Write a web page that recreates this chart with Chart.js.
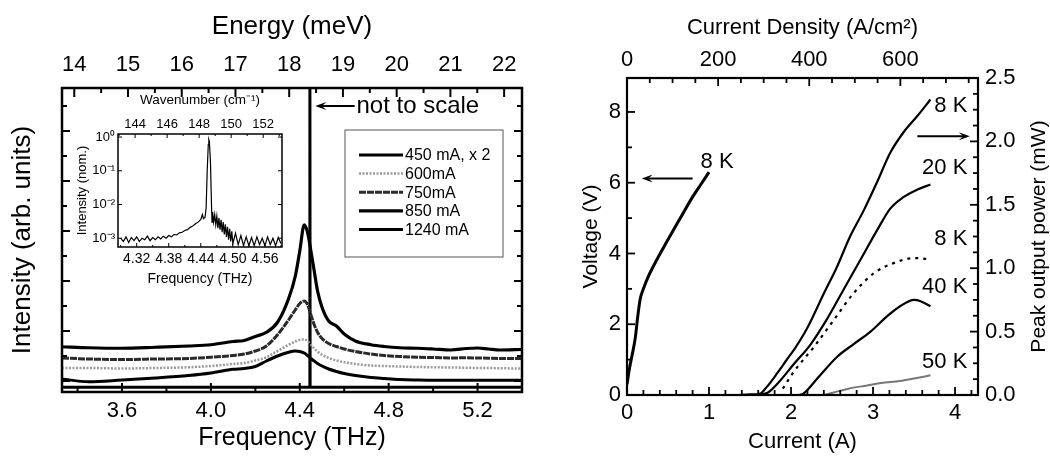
<!DOCTYPE html>
<html>
<head>
<meta charset="utf-8">
<script src="https://cdn.jsdelivr.net/npm/chart.js@4.4.1/dist/chart.umd.min.js"></script>
<style>
    body { margin: 0; background: #fff; width: 1050px; height: 456px; position: relative; overflow: hidden; }
    canvas { position: absolute; }
    #spec { left: 0; top: 0; }
    #inset { left: 70px; top: 88px; }
    #liv { left: 530px; top: 0; }
</style>
</head>
<body>
<canvas id="spec" width="530" height="456"></canvas>
<canvas id="inset" width="220" height="205"></canvas>
<canvas id="liv" width="520" height="456"></canvas>
<script>
// ---- unit conversions for the secondary axes
const THZ_PER_MEV = 0.241799;
const THZ_PER_WAVENUMBER = 0.0299792;
const JCM2_PER_AMP = 180;

// ---- left panel: spectra (frequency in THz, intensity offset in arb. units)
const specFreq = [3.33, 3.45, 3.6, 3.75, 3.9, 4.0, 4.1, 4.15, 4.2, 4.25, 4.3, 4.35, 4.38, 4.40, 4.42, 4.435,
    4.45, 4.465, 4.48, 4.50, 4.53, 4.565, 4.6, 4.65, 4.72, 4.78, 4.85, 4.93, 5.0, 5.08, 5.15, 5.2, 5.25, 5.3, 5.4];
const spec450 = [0.08, -0.03, 0.04, 0.12, 0.22, 0.32, 0.47, 0.5, 0.58, 0.8, 1.0, 1.15, 1.2, 1.18, 1.12, 1.02,
    0.9, 0.8, 0.7, 0.6, 0.48, 0.38, 0.3, 0.22, 0.14, 0.1, 0.06, 0.04, 0.03, 0.03, 0.03, 0.03, 0.03, 0.03, 0.03];
const spec600 = [0.52, 0.52, 0.5, 0.52, 0.55, 0.6, 0.68, 0.72, 0.82, 0.95, 1.2, 1.45, 1.58, 1.65, 1.66, 1.6,
    1.45, 1.3, 1.18, 1.05, 0.92, 0.82, 0.75, 0.68, 0.62, 0.6, 0.58, 0.56, 0.55, 0.54, 0.53, 0.52, 0.52, 0.51, 0.5];
const spec750 = [0.92, 0.88, 0.86, 0.88, 0.9, 0.95, 1.02, 1.08, 1.2, 1.4, 1.85, 2.45, 2.85, 3.1, 3.2, 3.05,
    2.65, 2.25, 1.95, 1.7, 1.5, 1.38, 1.28, 1.18, 1.08, 1.02, 0.98, 0.95, 0.94, 0.92, 0.93, 0.92, 0.91, 0.9, 0.9];
const spec850 = [1.37, 1.33, 1.31, 1.35, 1.4, 1.45, 1.58, 1.62, 1.78, 1.95, 2.35, 3.3, 4.2, 5.2, 6.25, 5.95,
    5.2, 4.4, 3.6, 2.95, 2.4, 2.2, 1.88, 1.6, 1.45, 1.38, 1.33, 1.31, 1.28, 1.24, 1.3, 1.32, 1.28, 1.24, 1.26];
const spec1240Freq = [3.33, 4.4445, 4.445, 4.446, 4.4465, 5.4];
const spec1240 = [-0.25, -0.25, 13, 13, -0.25, -0.25];

// ---- inset: log spectrum above threshold
const insetFreq = [4.29, 4.295, 4.30, 4.305, 4.31, 4.315, 4.32, 4.325, 4.33, 4.335, 4.34, 4.345, 4.35, 4.355,
    4.36, 4.365, 4.37, 4.375, 4.38, 4.385, 4.39, 4.395, 4.40, 4.405, 4.41, 4.415, 4.42, 4.425, 4.43, 4.435,
    4.44, 4.443, 4.445, 4.448, 4.450, 4.452, 4.454, 4.455, 4.456, 4.458, 4.460, 4.461, 4.462, 4.464, 4.466,
    4.468, 4.47, 4.472, 4.474, 4.476, 4.478, 4.48, 4.482, 4.484, 4.486, 4.488, 4.49, 4.492, 4.494, 4.496,
    4.498, 4.50, 4.505, 4.51, 4.515, 4.52, 4.525, 4.53, 4.535, 4.54, 4.545, 4.55, 4.555, 4.56, 4.565, 4.57,
    4.575, 4.58, 4.585, 4.59];
const insetInt = [1.0e-3, 0.8e-3, 1.1e-3, 0.75e-3, 1.05e-3, 0.85e-3, 1.1e-3, 0.8e-3, 1.0e-3, 0.9e-3, 1.15e-3,
    0.85e-3, 1.05e-3, 0.9e-3, 1.1e-3, 0.95e-3, 1.15e-3, 1.0e-3, 1.2e-3, 1.1e-3, 1.3e-3, 1.25e-3, 1.45e-3,
    1.5e-3, 1.7e-3, 1.8e-3, 2.1e-3, 2.3e-3, 2.7e-3, 3.0e-3, 3.6e-3, 5.0e-3, 3.8e-3, 4.2e-3, 8e-3, 0.1, 0.6,
    0.85, 0.75, 0.2, 0.01, 3e-3, 6e-3, 3e-3, 5e-3, 2.5e-3, 4.5e-3, 2e-3, 4e-3, 1.8e-3, 3.5e-3, 1.5e-3, 3e-3,
    1.3e-3, 2.6e-3, 1.1e-3, 2.2e-3, 0.9e-3, 1.9e-3, 0.8e-3, 1.6e-3, 0.7e-3, 1.4e-3, 0.65e-3, 1.2e-3, 0.6e-3,
    1.1e-3, 0.6e-3, 1.05e-3, 0.6e-3, 1.1e-3, 0.65e-3, 1.0e-3, 0.6e-3, 1.1e-3, 0.65e-3, 1.0e-3, 0.6e-3, 1.05e-3, 0.7e-3];

// ---- right panel: V-I and L-I
const ivCurrent = [0, 0.03, 0.06, 0.1, 0.13, 0.16, 0.2, 0.27, 0.37, 0.49, 0.65, 0.8, 0.9, 1.0];
const ivVoltage = [0.3, 0.75, 1.1, 1.6, 2.2, 2.7, 3.0, 3.4, 3.85, 4.35, 5.0, 5.6, 5.95, 6.3];
const li8Current = [1.35, 1.5, 1.62, 1.7, 1.83, 1.95, 2.05, 2.2, 2.4, 2.56, 2.72, 2.89, 3.05, 3.21, 3.37, 3.54, 3.7];
const li8Power = [0, 0.005, 0.01, 0.06, 0.17, 0.28, 0.37, 0.53, 0.8, 1.01, 1.25, 1.46, 1.68, 1.91, 2.07, 2.2, 2.33];
const li20Current = [1.6, 1.72, 1.85, 2.03, 2.24, 2.44, 2.64, 2.85, 3.05, 3.21, 3.37, 3.54, 3.7];
const li20Power = [0, 0.02, 0.1, 0.24, 0.4, 0.6, 0.83, 1.07, 1.3, 1.47, 1.56, 1.62, 1.66];
const li8bCurrent = [1.9, 2.03, 2.28, 2.52, 2.76, 3.01, 3.25, 3.5, 3.7];
const li8bPower = [0.05, 0.18, 0.38, 0.59, 0.8, 0.96, 1.04, 1.08, 1.07];
const li40Current = [2.1, 2.15, 2.32, 2.56, 2.76, 2.97, 3.17, 3.33, 3.5, 3.58, 3.7];
const li40Power = [0, 0.01, 0.13, 0.3, 0.4, 0.5, 0.62, 0.7, 0.75, 0.74, 0.7];
const li50Current = [2.4, 2.52, 2.7, 2.93, 3.1, 3.33, 3.5, 3.7];
const li50Power = [0, 0.02, 0.05, 0.075, 0.095, 0.11, 0.13, 0.155];

const FONT = "'Liberation Sans', Arial, Helvetica, sans-serif";
Chart.defaults.font.family = FONT;
Chart.defaults.color = '#000';

function xy(xs, ys) {
    return xs.map((x, i) => ({ x: x, y: ys[i] }));
}

function stepValues(min, max, step) {
    const out = [];
    for (let k = Math.ceil(min / step - 1e-9); k * step <= max + 1e-9; k++) out.push(k * step);
    return out;
}

function isMultiple(v, step) {
    const r = v / step;
    return Math.abs(r - Math.round(r)) < 1e-6;
}

// labelled ticks only at multiples of step (Chart.js would otherwise spread them)
function fixedTicks(step) {
    return s => { s.ticks = stepValues(s.min, s.max, step).map(v => ({ value: v })); };
}

// inward tick marks on the frame plus the frame itself
function framePlugin(axes, frameWidth) {
    return {
        id: 'frame',
        afterDatasetsDraw(chart) {
            const { ctx, chartArea: a } = chart;
            ctx.save();
            ctx.strokeStyle = '#000';
            axes.forEach(ax => {
                const s = chart.scales[ax.id];
                const vals = ax.values || stepValues(s.min, s.max, ax.minor);
                ctx.lineWidth = ax.lineWidth || 1.5;
                vals.forEach(v => {
                    const len = (ax.values || isMultiple(v, ax.major)) ? ax.majorLen : ax.minorLen;
                    const p = s.getPixelForValue(v);
                    ctx.beginPath();
                    ax.sides.forEach(side => {
                        if (side === 'bottom') { ctx.moveTo(p, a.bottom); ctx.lineTo(p, a.bottom - len); }
                        if (side === 'top') { ctx.moveTo(p, a.top); ctx.lineTo(p, a.top + len); }
                        if (side === 'left') { ctx.moveTo(a.left, p); ctx.lineTo(a.left + len, p); }
                        if (side === 'right') { ctx.moveTo(a.right, p); ctx.lineTo(a.right - len, p); }
                    });
                    ctx.stroke();
                });
            });
            ctx.lineWidth = frameWidth;
            ctx.strokeRect(a.left, a.top, a.right - a.left, a.bottom - a.top);
            ctx.restore();
        }
    };
}

function drawArrow(ctx, x1, y1, x2, y2, width) {
    const ang = Math.atan2(y2 - y1, x2 - x1);
    const head = 11;
    ctx.save();
    ctx.lineWidth = width;
    ctx.strokeStyle = '#000';
    ctx.fillStyle = '#000';
    ctx.beginPath();
    ctx.moveTo(x1, y1);
    ctx.lineTo(x2 - Math.cos(ang) * head * 0.6, y2 - Math.sin(ang) * head * 0.6);
    ctx.stroke();
    ctx.beginPath();
    ctx.moveTo(x2, y2);
    ctx.lineTo(x2 - Math.cos(ang) * head + Math.sin(ang) * 4, y2 - Math.sin(ang) * head - Math.cos(ang) * 4);
    ctx.lineTo(x2 - Math.cos(ang) * head * 0.6, y2 - Math.sin(ang) * head * 0.6);
    ctx.lineTo(x2 - Math.cos(ang) * head - Math.sin(ang) * 4, y2 - Math.sin(ang) * head + Math.cos(ang) * 4);
    ctx.closePath();
    ctx.fill();
    ctx.restore();
}

function axisStyle(extra) {
    return Object.assign({
        type: 'linear',
        grid: { display: false, drawTicks: false },
        border: { display: false }
    }, extra);
}

// =================== left panel ===================
const specLegend = {
    id: 'specLegend',
    afterDraw(chart) {
        const ctx = chart.ctx;
        const box = { left: 345, top: 130, right: 503, bottom: 257 };
        ctx.save();
        ctx.strokeStyle = '#555';
        ctx.lineWidth = 1;
        ctx.strokeRect(box.left, box.top, box.right - box.left, box.bottom - box.top);
        ctx.font = '16px ' + FONT;
        ctx.textBaseline = 'middle';
        ctx.fillStyle = '#000';
        chart.data.datasets.forEach((ds, i) => {
            const y = 155 + i * 18.6;
            ctx.save();
            ctx.strokeStyle = ds.borderColor;
            ctx.lineWidth = ds.borderWidth;
            ctx.setLineDash(ds.borderDash || []);
            ctx.beginPath();
            ctx.moveTo(359, y);
            ctx.lineTo(403, y);
            ctx.stroke();
            ctx.restore();
            ctx.fillText(ds.label, 405, y + 1);
        });

        // "not to scale" marker pointing at the lasing line
        const sx = chart.scales.x, sy = chart.scales.y;
        const ay = sy.getPixelForValue(11.0);
        drawArrow(ctx, sx.getPixelForValue(4.647), ay, sx.getPixelForValue(4.47), ay, 2);
        ctx.font = '24px ' + FONT;
        ctx.fillText('not to scale', sx.getPixelForValue(4.655), ay);
        ctx.restore();
    }
};

function specSet(label, ys, color, width, dash, xs) {
    return {
        label: label,
        data: xy(xs || specFreq, ys),
        borderColor: color,
        borderWidth: width,
        borderDash: dash,
        pointRadius: 0,
        cubicInterpolationMode: xs ? 'default' : 'monotone',
        tension: 0
    };
}

new Chart(document.getElementById('spec'), {
    type: 'line',
    data: {
        datasets: [
            specSet('450 mA, x 2', spec450, '#000', 3, []),
            specSet('600mA', spec600, '#9a9a9a', 2.5, [2, 1.5]),
            specSet('750mA', spec750, '#2a2a2a', 3, [7, 1]),
            specSet('850 mA', spec850, '#000', 3.2, []),
            specSet('1240 mA', spec1240, '#000', 3, [], spec1240Freq)
        ]
    },
    options: {
        responsive: false,
        animation: false,
        devicePixelRatio: 1,
        layout: { padding: { right: 8 } },
        plugins: { legend: { display: false }, tooltip: { enabled: false } },
        scales: {
            x: axisStyle({
                position: 'bottom', min: 3.33, max: 5.40,
                afterFit: s => { s.height = 64; },
                afterBuildTicks: fixedTicks(0.4),
                ticks: { autoSkip: false, maxRotation: 0, padding: 6, font: { size: 22 }, callback: v => v.toFixed(1) },
                title: { display: true, text: 'Frequency (THz)', font: { size: 25 }, padding: { top: 0, bottom: 3 } }
            }),
            xTop: axisStyle({
                position: 'top', min: 3.33 / THZ_PER_MEV, max: 5.40 / THZ_PER_MEV,
                afterFit: s => { s.height = 88; },
                afterBuildTicks: fixedTicks(1),
                ticks: { autoSkip: false, maxRotation: 0, padding: 10, font: { size: 22 }, callback: v => v.toFixed(0) },
                title: { display: true, text: 'Energy (meV)', font: { size: 26 }, padding: { top: 11, bottom: 0 } }
            }),
            y: axisStyle({
                position: 'left', min: -0.44, max: 11.72,
                afterFit: s => { s.width = 62; },
                ticks: { display: false },
                title: { display: true, text: 'Intensity (arb. units)', font: { size: 26 }, padding: { top: 7, bottom: 0 } }
            })
        }
    },
    plugins: [
        framePlugin([
            { id: 'x', minor: 0.2, major: 0.4, majorLen: 9, minorLen: 5, sides: ['bottom'], lineWidth: 2 },
            { id: 'xTop', minor: 0.5, major: 1, majorLen: 9, minorLen: 5, sides: ['top'], lineWidth: 2 },
            { id: 'y', minor: 1, major: 2, majorLen: 8, minorLen: 5, sides: ['left', 'right'], lineWidth: 2 }
        ], 2.5),
        specLegend
    ]
});

// =================== inset ===================
const SUP = { '0': '⁰', '1': '¹', '2': '²', '3': '³', '-': '⁻' };
function powerLabel(v) {
    const e = Math.log10(v);
    if (Math.abs(e - Math.round(e)) > 1e-6) return '';
    return '10' + String(Math.round(e)).split('').map(c => SUP[c]).join('');
}

new Chart(document.getElementById('inset'), {
    type: 'line',
    data: {
        datasets: [{
            data: xy(insetFreq, insetInt),
            borderColor: '#000',
            borderWidth: 1.2,
            pointRadius: 0,
            tension: 0
        }]
    },
    options: {
        responsive: false,
        animation: false,
        devicePixelRatio: 1,
        layout: { padding: { right: 8 } },
        plugins: { legend: { display: false }, tooltip: { enabled: false } },
        scales: {
            x: axisStyle({
                position: 'bottom', min: 4.285, max: 4.592,
                afterFit: s => { s.height = 46; },
                afterBuildTicks: fixedTicks(0.06),
                ticks: { autoSkip: false, maxRotation: 0, padding: 4, font: { size: 14 }, callback: v => v.toFixed(2) },
                title: { display: true, text: 'Frequency (THz)', font: { size: 14 }, padding: { top: 0, bottom: 5 } }
            }),
            xTop: axisStyle({
                position: 'top', min: 4.285 / THZ_PER_WAVENUMBER, max: 4.592 / THZ_PER_WAVENUMBER,
                afterFit: s => { s.height = 46; },
                afterBuildTicks: fixedTicks(2),
                ticks: { autoSkip: false, maxRotation: 0, padding: 2, font: { size: 13 }, callback: v => v.toFixed(0) },
                title: { display: true, text: 'Wavenumber (cm⁻¹)', font: { size: 13.5 }, padding: { top: 4, bottom: 0 } }
            }),
            y: axisStyle({
                type: 'logarithmic', position: 'left', min: 5.5e-4, max: 1.23,
                afterFit: s => { s.width = 48; },
                ticks: { autoSkip: false, padding: 3, font: { size: 13 }, callback: v => powerLabel(v) },
                title: { display: true, text: 'Intensity (nom.)', font: { size: 13 }, padding: { top: 5, bottom: 0 } }
            })
        }
    },
    plugins: [
        framePlugin([
            { id: 'x', minor: 0.03, major: 0.06, majorLen: 4, minorLen: 2, sides: ['bottom'], lineWidth: 1 },
            { id: 'xTop', minor: 1, major: 2, majorLen: 4, minorLen: 2, sides: ['top'], lineWidth: 1 },
            { id: 'y', values: [1e-3, 1e-2, 1e-1, 1], majorLen: 4, sides: ['left', 'right'], lineWidth: 1 }
        ], 1.5)
    ]
});

// =================== right panel ===================
const livNotes = {
    id: 'livNotes',
    afterDraw(chart) {
        const { ctx } = chart;
        const sx = chart.scales.x, sv = chart.scales.y, sp = chart.scales.y2;
        ctx.save();
        ctx.fillStyle = '#000';
        ctx.font = '22px ' + FONT;
        ctx.textBaseline = 'middle';
        ctx.textAlign = 'right';
        ctx.fillText('8 K', sx.getPixelForValue(1.3), sv.getPixelForValue(6.6));
        [['8 K', 2.28], ['20 K', 1.79], ['8 K', 1.23], ['40 K', 0.85], ['50 K', 0.26]].forEach(([t, p]) => {
            ctx.fillText(t, sx.getPixelForValue(4.15), sp.getPixelForValue(p));
        });
        drawArrow(ctx, sx.getPixelForValue(0.8), sv.getPixelForValue(6.12), sx.getPixelForValue(0.18), sv.getPixelForValue(6.12), 2);
        drawArrow(ctx, sx.getPixelForValue(3.54), sp.getPixelForValue(2.04), sx.getPixelForValue(4.18), sp.getPixelForValue(2.04), 2);

        // right axis title reads bottom-to-top
        const a = chart.chartArea;
        ctx.translate(chart.width - 10.5, (a.top + a.bottom) / 2);
        ctx.rotate(-Math.PI / 2);
        ctx.textAlign = 'center';
        ctx.font = '21px ' + FONT;
        ctx.fillText('Peak output power (mW)', 0, 0);
        ctx.restore();
    }
};

function livSet(xs, ys, axis, color, width, dash) {
    return {
        data: xy(xs, ys),
        yAxisID: axis,
        borderColor: color,
        borderWidth: width,
        borderDash: dash,
        pointRadius: 0,
        cubicInterpolationMode: 'monotone'
    };
}

new Chart(document.getElementById('liv'), {
    type: 'line',
    data: {
        datasets: [
            livSet(ivCurrent, ivVoltage, 'y', '#000', 3, []),
            livSet(li8Current, li8Power, 'y2', '#000', 2.2, []),
            livSet(li20Current, li20Power, 'y2', '#000', 2.2, []),
            livSet(li8bCurrent, li8bPower, 'y2', '#000', 2.2, [3, 5]),
            livSet(li40Current, li40Power, 'y2', '#000', 2.2, []),
            livSet(li50Current, li50Power, 'y2', '#777', 2, [])
        ]
    },
    options: {
        responsive: false,
        animation: false,
        devicePixelRatio: 1,
        plugins: { legend: { display: false }, tooltip: { enabled: false } },
        scales: {
            x: axisStyle({
                position: 'bottom', min: 0, max: 4.28,
                afterFit: s => { s.height = 61; },
                afterBuildTicks: fixedTicks(1),
                ticks: { autoSkip: false, maxRotation: 0, padding: 5, font: { size: 22 }, callback: v => v.toFixed(0) },
                title: { display: true, text: 'Current (A)', font: { size: 22 }, padding: { top: 0, bottom: 1 } }
            }),
            xTop: axisStyle({
                position: 'top', min: 0, max: 4.28 * JCM2_PER_AMP,
                afterFit: s => { s.height = 78; },
                afterBuildTicks: fixedTicks(200),
                ticks: { autoSkip: false, maxRotation: 0, padding: 5, font: { size: 22 }, callback: v => v.toFixed(0) },
                title: { display: true, text: 'Current Density (A/cm²)', font: { size: 22 }, padding: { top: 15, bottom: 0 } }
            }),
            y: axisStyle({
                position: 'left', min: 0, max: 8.96,
                afterFit: s => { s.width = 97; },
                afterBuildTicks: fixedTicks(2),
                ticks: { autoSkip: false, padding: 6, font: { size: 22 }, callback: v => v.toFixed(0) },
                title: { display: true, text: 'Voltage (V)', font: { size: 21 }, padding: { top: 49, bottom: 0 } }
            }),
            y2: axisStyle({
                position: 'right', min: 0, max: 2.5,
                afterFit: s => { s.width = 72; },
                afterBuildTicks: fixedTicks(0.5),
                ticks: { autoSkip: false, padding: 7, font: { size: 22 }, callback: v => v.toFixed(1) }
            })
        }
    },
    plugins: [
        framePlugin([
            { id: 'x', minor: 0.2, major: 1, majorLen: 8, minorLen: 5, sides: ['bottom'], lineWidth: 1.8 },
            { id: 'xTop', minor: 50, major: 200, majorLen: 8, minorLen: 5, sides: ['top'], lineWidth: 1.8 },
            { id: 'y', minor: 1, major: 2, majorLen: 8, minorLen: 5, sides: ['left'], lineWidth: 1.8 },
            { id: 'y2', minor: 0.125, major: 0.5, majorLen: 8, minorLen: 5, sides: ['right'], lineWidth: 1.8 }
        ], 2.2),
        livNotes
    ]
});
</script>
</body>
</html>
